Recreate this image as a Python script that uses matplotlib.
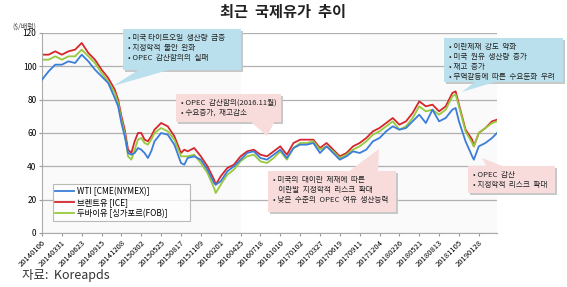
import matplotlib
matplotlib.use('Agg')
import matplotlib.pyplot as plt
from matplotlib.patches import Rectangle, Polygon

plt.rcParams['font.family'] = ['Noto Sans CJK KR', 'DejaVu Sans']

# ---------------- data (weekly index from 2014-01-06) ----------------
weeks = [0, 4, 8, 12, 16, 20, 24, 28, 32, 36, 40, 44, 46, 48, 50, 52, 54, 56, 58, 60,
         62, 64, 66, 68, 72, 76, 80, 84, 86, 88, 92, 96, 100, 104, 105, 108, 112, 116,
         120, 124, 128, 132, 136, 140, 144, 148, 152, 156, 160, 164, 168, 172, 176, 180,
         184, 188, 192, 196, 200, 204, 208, 212, 216, 220, 224, 228, 232, 236, 240, 244,
         248, 250, 252, 256, 260, 261, 264, 268, 272, 275]

wti = [92, 97, 101, 101, 103, 102, 107, 103, 98, 94, 90, 81, 76, 66, 58, 48, 47, 48, 51, 50,
       48, 45, 49, 55, 60, 59, 53, 42, 41, 45, 46, 44, 38, 30, 29, 31, 37, 40,
       44, 48, 49, 45, 44, 47, 50, 45, 51, 53, 53, 54, 48, 52, 48, 44,
       46, 49, 48, 50, 55, 57, 61, 64, 62, 63, 67, 71, 66, 74, 67, 69,
       74, 75, 67, 55, 46, 44, 52, 54, 57, 60]

brent = [107, 107, 109, 107, 109, 110, 114, 108, 104, 98, 93, 86, 80, 70, 62, 50, 48, 55, 60, 60,
         56, 55, 58, 62, 66, 64, 58, 48, 50, 49, 51, 46, 40, 32, 29, 34, 39, 41,
         46, 49, 50, 47, 46, 49, 52, 47, 54, 56, 56, 56, 51, 54, 50, 46,
         48, 52, 54, 57, 61, 63, 66, 69, 65, 67, 72, 79, 76, 77, 73, 76,
         84, 85, 77, 62, 56, 52, 60, 63, 67, 68]

dubai = [104, 104, 106, 104, 106, 106, 110, 106, 102, 96, 91, 84, 78, 68, 60, 46, 44, 50, 56, 57,
         54, 53, 56, 60, 63, 61, 56, 46, 46, 46, 47, 42, 36, 27, 24, 29, 35, 38,
         43, 46, 47, 43, 42, 45, 49, 44, 51, 54, 54, 55, 50, 52, 49, 45,
         47, 50, 52, 55, 59, 61, 64, 67, 62, 64, 69, 76, 73, 74, 71, 74,
         82, 83, 76, 61, 54, 52, 60, 63, 66, 67]

tick_labels = ['20140106', '20140331', '20140623', '20140915', '20141208', '20150302',
               '20150525', '20150817', '20151109', '20160201', '20160425', '20160718',
               '20161010', '20170102', '20170327', '20170619', '20170911', '20171204',
               '20180226', '20180521', '20180813', '20181105', '20190128']
tick_weeks = [12 * i for i in range(len(tick_labels))]

W, H = 567, 287
fig = plt.figure(figsize=(W / 100, H / 100), dpi=100)
ax = fig.add_axes([42 / W, 1 - 233 / H, 455 / W, 200 / H])

# very light shading bands
ax.axvspan(0, 120, color='#fafafa', zorder=0, lw=0)
ax.axvspan(192, 275, color='#fafafa', zorder=0, lw=0)

ax.plot(weeks, wti, color='#3b7dd8', lw=1.3, label='WTI [CME(NYMEX)]', zorder=3)
ax.plot(weeks, brent, color='#d7262b', lw=1.3, label='브렌트유 [ICE]', zorder=2)
ax.plot(weeks, dubai, color='#96c93d', lw=1.3, label='두바이유 [싱가포르(FOB)]', zorder=2.5)

ax.set_xlim(0, 275)
ax.set_ylim(0, 120)
ax.set_yticks(range(0, 121, 20))
ax.set_xticks(tick_weeks)
ax.set_xticklabels(tick_labels, rotation=45, ha='right', rotation_mode='anchor')
ax.tick_params(axis='x', labelsize=5.5, length=2, color='#999999', pad=2)
ax.tick_params(axis='y', labelsize=6, length=2, color='#999999', pad=2)
ax.grid(axis='y', color='#b0b0b0', lw=0.9)
ax.set_axisbelow(True)
for s in ['top', 'right']:
    ax.spines[s].set_visible(False)
ax.spines['left'].set_color('#aaaaaa')
ax.spines['bottom'].set_color('#aaaaaa')

leg = ax.legend(loc='lower left', bbox_to_anchor=(0.015, 0.04, 0.32, 0.16), mode='expand',
                fontsize=6, frameon=True, fancybox=False, handlelength=2.2,
                borderpad=0.3, labelspacing=0.25, handletextpad=0.4)
leg.get_frame().set_edgecolor('#aaaaaa')
leg.get_frame().set_linewidth(0.8)

fig.text(283 / W, 1 - 12 / H, '최근  국제유가  추이', ha='center', va='center',
         fontsize=11, fontweight='bold', color='#222222')
fig.text(12 / W, 1 - 27 / H, '($/배럴)', ha='left', va='center', fontsize=5, color='#444444')
fig.text(22 / W, 1 - 276 / H, '자료:  Koreapds', ha='left', va='center', fontsize=9, color='#333333')


def fx(x):
    return x / W


def fy(y):
    return 1 - y / H


def callout(x0, y0, x1, y1, tip, base, lines, face):
    # shadow
    fig.patches.append(Rectangle((fx(x0 + 2), fy(y1 + 2)), (x1 - x0) / W, (y1 - y0) / H,
                                 transform=fig.transFigure, facecolor='#c8c8c8',
                                 edgecolor='none', zorder=10))
    pts = [(fx(base[0][0]), fy(base[0][1])), (fx(tip[0]), fy(tip[1])),
           (fx(base[1][0]), fy(base[1][1]))]
    fig.patches.append(Polygon(pts, closed=True, transform=fig.transFigure,
                               facecolor=face, edgecolor='none', zorder=11))
    fig.patches.append(Rectangle((fx(x0), fy(y1)), (x1 - x0) / W, (y1 - y0) / H,
                                 transform=fig.transFigure, facecolor=face,
                                 edgecolor='none', zorder=12))
    fig.text(fx(x0 + 5), fy(y0 + 5), '\n'.join(lines), ha='left', va='top',
             fontsize=5.5, linespacing=1.35, color='#222222', zorder=13)


blue_box = '#b9e0ec'
pink_box = '#f8dcdc'

callout(123, 29, 241, 70, (113, 86), ((140, 69), (172, 69)),
        ['• 미국 타이트오일  생산량  급증', '• 지정학적  불안  완화', '• OPEC  감산합의의  실패'], blue_box)
callout(176, 94, 281, 122, (267, 136), ((250, 121), (275, 121)),
        ['• OPEC  감산합의(2016.11월)', '• 수요증가,  재고감소'], pink_box)
callout(268, 171, 396, 212, (379, 149), ((348, 172), (378, 172)),
        ['• 미국의  대이란  제재에  따른', '   이란발  지정학적  리스크  확대', '• 낮은  수준의  OPEC  여유  생산능력'], pink_box)
callout(444, 38, 563, 82, (462, 92), ((476, 81), (498, 81)),
        ['• 이란제재  강도  약화', '• 미국  원유  생산량  증가', '• 재고  증가', '• 무역갈등에  따른  수요둔화  우려'], blue_box)
callout(468, 166, 555, 193, (482, 158), ((487, 167), (505, 167)),
        ['• OPEC  감산', '• 지정학적  리스크  확대'], pink_box)

fig.savefig('out.png', dpi=100)
